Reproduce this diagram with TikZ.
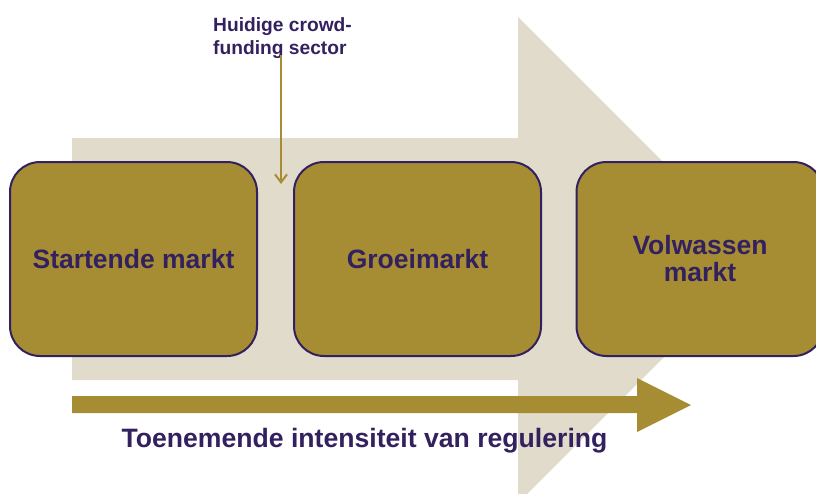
\documentclass[tikz,border=0pt]{standalone}
\usepackage{fontspec}
\setmainfont{Liberation Sans}
\usetikzlibrary{arrows.meta}
\definecolor{beige}{HTML}{E0DBCB}
\definecolor{gold}{HTML}{A68D34}
\definecolor{purp}{HTML}{33215F}
\tikzset{
  market/.style={draw=purp, line width=2pt, fill=gold, rounded corners=30pt,
    minimum width=247pt, minimum height=194pt, inner sep=0pt,
    text=purp, font=\bfseries\fontsize{26.5}{27}\selectfont, align=center},
  annot/.style={text=purp, font=\bfseries\fontsize{19.2}{23}\selectfont, align=left, inner sep=0pt},
  pointer/.style={draw=gold, line width=2pt, -{Straight Barb[length=8pt,width=12pt,line width=2pt]}}
}
\begin{document}
\begin{tikzpicture}[x=1pt,y=-1pt]
\useasboundingbox (0,0) rectangle (816,493);
\clip (0,0) rectangle (816,493);
% big background arrow
\fill[beige] (72,138) -- (518,138) -- (518,17) -- (761,260) -- (518,503) -- (518,380) -- (72,380) -- cycle;
% regulation arrow
\fill[gold] (72,396) -- (637,396) -- (637,378) -- (691,405) -- (637,432) -- (637,413) -- (72,413) -- cycle;
% market boxes
\node[market] (start) at (133.5,259) {Startende markt};
\node[market] (groei) at (417.5,259) {Groeimarkt};
\node[market] (volw) at (700,259) {Volwassen\\markt};
% annotation
\node[annot, anchor=north west] (ann) at (213,17) {Huidige crowd-\\funding sector};
\coordinate (annstart) at (281,55);
\coordinate (anntip) at (281,184);
\draw[pointer] (annstart) -- (anntip);
% bottom label
\node[text=purp, font=\bfseries\fontsize{26.6}{27}\selectfont, inner sep=0pt, anchor=base] (reg) at (364.5,447) {Toenemende intensiteit van regulering};
\end{tikzpicture}
\end{document}
